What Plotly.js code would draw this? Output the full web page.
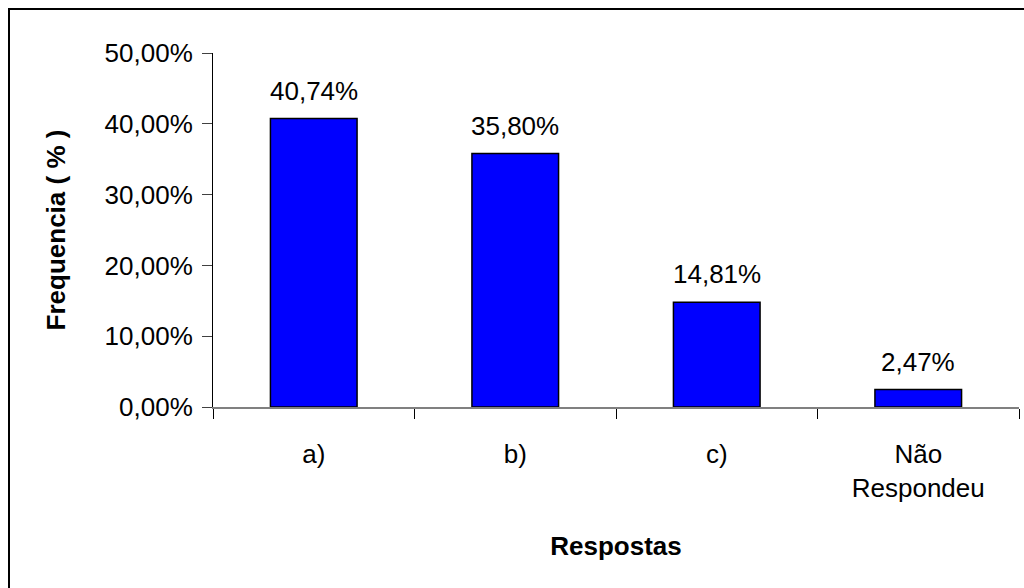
<!DOCTYPE html>
<html>
<head>
<meta charset="utf-8">
<script src="https://cdn.plot.ly/plotly-3.0.1.min.js"></script>
<style>
  html, body { margin: 0; padding: 0; background: #fff; }
  #wrap { position: relative; width: 1024px; height: 588px; overflow: hidden; }
  #chart { width: 1024px; height: 588px; }
  #frame { position: absolute; left: 8px; top: 8px; width: 1030px; height: 600px;
           border: 2px solid #000; pointer-events: none; }
</style>
</head>
<body>
<div id="wrap">
  <div id="chart"></div>
  <div id="frame"></div>
</div>
<script>
// Respostas e frequências (fração)
const categories = ['a)', 'b)', 'c)', 'Não<br>Respondeu'];
const frequencies = [0.4074, 0.3580, 0.1481, 0.0247];
const yTickValues = [0, 0.1, 0.2, 0.3, 0.4, 0.5];

const fmtPct = v => (v * 100).toFixed(2).replace('.', ',') + '%';

const FONT = 'Liberation Sans, Arial, sans-serif';
const FS = 26;

const bars = {
  type: 'bar',
  x: categories,
  y: frequencies,
  marker: { color: '#0000FF', line: { color: '#000', width: 1.5 } },
  hoverinfo: 'skip'
};

const valueLabels = categories.map((c, i) => ({
  x: c, y: frequencies[i], xref: 'x', yref: 'y',
  text: fmtPct(frequencies[i]),
  showarrow: false, yanchor: 'bottom', yshift: 11,
  font: { family: FONT, size: FS, color: '#000' }
}));

const layout = {
  width: 1024, height: 588,
  paper_bgcolor: '#fff', plot_bgcolor: '#fff',
  margin: { l: 213, r: 5, t: 53, b: 181 },
  separators: ',.',
  showlegend: false,
  bargap: 0.57,
  font: { family: FONT, size: FS, color: '#000' },
  xaxis: {
    type: 'category',
    showline: true, linecolor: '#808080', linewidth: 1.5,
    ticks: 'outside', tickson: 'boundaries', ticklen: 10, tickcolor: '#000', tickwidth: 1,
    ticklabelstandoff: 23,
    showgrid: false, zeroline: false,
    tickfont: { family: FONT, size: FS },
    title: { text: '<b>Respostas</b>', font: { family: FONT, size: FS }, standoff: 35 }
  },
  yaxis: {
    range: [0, 0.5],
    tickvals: yTickValues,
    tickformat: '.2%',
    showline: true, linecolor: '#000', linewidth: 1,
    ticks: 'outside', ticklen: 10, tickcolor: '#404040', tickwidth: 1,
    ticklabelstandoff: 4,
    showgrid: false, zeroline: false,
    tickfont: { family: FONT, size: FS },
    title: { text: '<b>Frequencia ( % )</b>', font: { family: FONT, size: FS }, standoff: 31 }
  },
  annotations: valueLabels
};

Plotly.newPlot('chart', [bars], layout, { staticPlot: true, displayModeBar: false });
</script>
</body>
</html>
